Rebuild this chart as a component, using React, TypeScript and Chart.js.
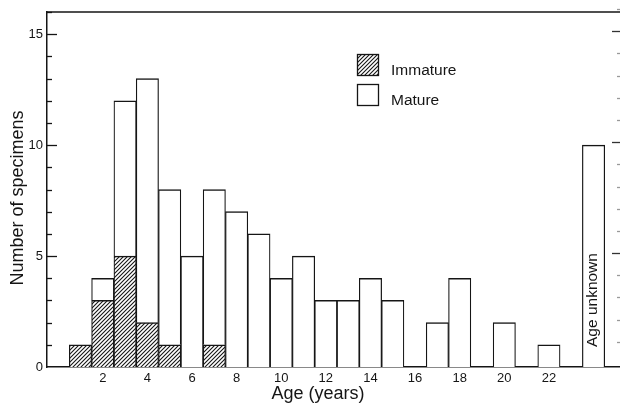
import React, { useEffect, useRef } from 'react';
import { Chart, registerables } from 'chart.js';

Chart.register(...registerables);

// ---- data ----
const UNKNOWN = 'Age unknown';
const categories = [
  '0', '1', '2', '3', '4', '5', '6', '7', '8', '9', '10', '11', '12',
  '13', '14', '15', '16', '17', '18', '19', '20', '21', '22', '23', UNKNOWN, '',
];
const immature = [
  null, 1, 3, 5, 2, 1, null, 1, null, null, null, null, null,
  null, null, null, null, null, null, null, null, null, null, null, null, null,
];
const mature = [
  null, null, 1, 7, 11, 7, 5, 7, 7, 6, 4, 5, 3,
  3, 4, 3, null, 2, 4, null, 2, null, 1, null, 10, null,
];
const seriesNames = ['Immature', 'Mature'];
const yTickLabels = [0, 5, 10, 15];
const yMin = 0;
const yMax = 16;
const xTitle = 'Age (years)';
const yTitle = 'Number of specimens';

const INK = '#151515';
const FONT = '"Liberation Sans", Arial, Helvetica, sans-serif';

function makeHatch(): CanvasPattern | string {
  const c = document.createElement('canvas');
  c.width = 4;
  c.height = 4;
  const g = c.getContext('2d');
  if (!g) return '#888';
  g.fillStyle = '#ffffff';
  g.fillRect(0, 0, 4, 4);
  g.strokeStyle = INK;
  g.lineWidth = 1.1;
  g.beginPath();
  g.moveTo(-1, 5);
  g.lineTo(5, -1);
  g.moveTo(-1, 1);
  g.lineTo(1, -1);
  g.moveTo(3, 5);
  g.lineTo(5, 3);
  g.stroke();
  return g.createPattern(c, 'repeat') || '#888';
}

export default function App() {
  const ref = useRef<HTMLCanvasElement | null>(null);

  useEffect(() => {
    const canvas = ref.current;
    if (!canvas) return;
    const hatch = makeHatch();

    const decor = {
      id: 'decor',
      afterDraw(chart: any) {
        const { ctx, chartArea: a, scales } = chart;
        const x = scales.x;
        const y = scales.y;
        ctx.save();
        ctx.strokeStyle = INK;
        ctx.fillStyle = INK;

        // top frame line
        ctx.lineWidth = 1.5;
        ctx.beginPath();
        ctx.moveTo(a.left, a.top);
        ctx.lineTo(a.right, a.top);
        ctx.stroke();

        // inward ticks on left axis
        ctx.lineWidth = 1.3;
        for (let v = yMin + 1; v <= yMax; v++) {
          const py = Math.round(y.getPixelForValue(v)) + 0.5;
          const len = v % 5 === 0 ? 10 : 5;
          ctx.beginPath();
          ctx.moveTo(a.left, py);
          ctx.lineTo(a.left + len, py);
          ctx.stroke();
        }
        // faint ticks at right edge of the page
        const edge = 620;
        for (let v = yMin + 1; v <= yMax; v++) {
          const py = Math.round(y.getPixelForValue(v)) - 2.5;
          const major = v % 5 === 0;
          ctx.strokeStyle = major ? '#333' : '#999';
          ctx.beginPath();
          ctx.moveTo(edge - (major ? 8 : 3), py);
          ctx.lineTo(edge, py);
          ctx.stroke();
        }
        ctx.strokeStyle = INK;

        // rotated label inside the "Age unknown" bar
        const idx = categories.indexOf(UNKNOWN);
        const bx = x.getPixelForValue(idx);
        ctx.save();
        ctx.translate(bx - 1, y.getPixelForValue(0) - 20);
        ctx.rotate(-Math.PI / 2);
        ctx.font = `15.5px ${FONT}`;
        ctx.textAlign = 'left';
        ctx.textBaseline = 'middle';
        ctx.fillText(UNKNOWN, 0, 0);
        ctx.restore();

        // legend
        const lx = a.left + 310;
        const ly = a.top + 42;
        const box = 22;
        const gap = 30;
        for (let i = 0; i < seriesNames.length; i++) {
          const top = ly + i * gap;
          ctx.fillStyle = i === 0 ? hatch : '#ffffff';
          ctx.fillRect(lx, top, box, box);
          ctx.lineWidth = 1.3;
          ctx.strokeStyle = INK;
          ctx.strokeRect(lx + 0.5, top + 0.5, box - 1, box - 1);
          ctx.fillStyle = INK;
          ctx.font = `15.5px ${FONT}`;
          ctx.textAlign = 'left';
          ctx.textBaseline = 'middle';
          ctx.fillText(seriesNames[i], lx + box + 12, top + box / 2 + 6);
        }

        // axis titles
        ctx.font = `18px ${FONT}`;
        ctx.textAlign = 'center';
        ctx.textBaseline = 'middle';
        ctx.fillText(xTitle, 318, 394);
        ctx.save();
        ctx.translate(18, 198);
        ctx.rotate(-Math.PI / 2);
        ctx.fillText(yTitle, 0, 0);
        ctx.restore();

        ctx.restore();
      },
    };

    const borderW = { top: 1.5, left: 1.2, right: 1.2, bottom: 0 };

    const chart = new Chart(canvas, {
      type: 'bar',
      data: {
        labels: categories,
        datasets: [
          {
            label: seriesNames[0],
            data: immature as any,
            backgroundColor: hatch as any,
            borderColor: INK,
            borderWidth: borderW as any,
            borderSkipped: 'start',
            barPercentage: 1,
            categoryPercentage: 1,
            stack: 's',
          },
          {
            label: seriesNames[1],
            data: mature as any,
            backgroundColor: '#ffffff',
            borderColor: INK,
            borderWidth: borderW as any,
            borderSkipped: 'start',
            barPercentage: 1,
            categoryPercentage: 1,
            stack: 's',
          },
        ],
      },
      options: {
        responsive: false,
        maintainAspectRatio: false,
        animation: false,
        devicePixelRatio: 1,
        layout: { padding: { top: 12, left: 0, right: 0, bottom: 0 } },
        plugins: {
          legend: { display: false },
          tooltip: { enabled: false },
          title: { display: false },
        },
        scales: {
          x: {
            type: 'category',
            stacked: true,
            grid: { display: false, drawTicks: false },
            border: { display: true, color: INK, width: 1.5 },
            ticks: {
              autoSkip: false,
              maxRotation: 0,
              minRotation: 0,
              padding: 4,
              color: INK,
              font: { family: FONT, size: 13 },
              callback: (_v: any, i: number) => {
                const l = categories[i];
                const n = Number(l);
                return l !== '' && !isNaN(n) && n > 0 && n % 2 === 0 ? l : '';
              },
            },
            afterFit: (s: any) => {
              s.height = 39;
            },
          },
          y: {
            stacked: true,
            min: yMin,
            max: yMax,
            grid: { display: false, drawTicks: false },
            border: { display: true, color: INK, width: 1.5 },
            ticks: {
              stepSize: 5,
              includeBounds: false,
              padding: 4,
              color: INK,
              font: { family: FONT, size: 13 },
              callback: (v: any) => (yTickLabels.includes(Number(v)) ? String(v) : ''),
            },
            afterFit: (s: any) => {
              s.width = 47;
            },
          },
        },
      },
      plugins: [decor],
    });

    return () => chart.destroy();
  }, []);

  return (
    <div
      style={{
        position: 'fixed',
        left: 0,
        top: 0,
        width: 620,
        height: 406,
        overflow: 'hidden',
        background: '#ffffff',
      }}
    >
      <canvas ref={ref} width={627} height={406} style={{ display: 'block' }} />
    </div>
  );
}
